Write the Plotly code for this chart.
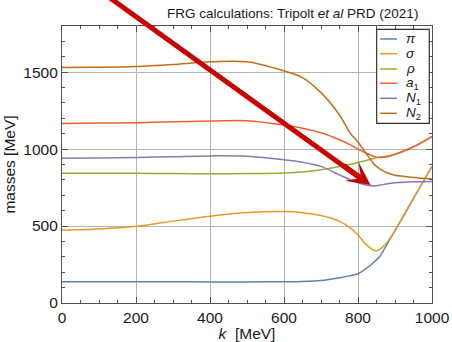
import plotly.graph_objects as go

k = [0, 100, 200, 300, 400, 500, 600, 650, 700, 750, 780, 800, 820, 840, 850, 860, 880, 900, 950, 1000]

m_pi = [138, 138, 138, 138, 137, 137, 138, 140, 146, 164, 178, 190, 220, 258, 281, 307, 388, 470, 680, 888]
m_sigma = [474, 481, 498, 532, 564, 588, 594, 587, 568, 530, 487, 442, 386, 346, 340, 350, 398, 470, 680, 888]
m_rho = [843, 843, 843, 841, 840, 841, 845, 852, 866, 887, 902, 913, 925, 937, 943, 948, 955, 966, 1015, 1081]
m_a1 = [1166, 1169, 1172, 1178, 1182, 1185, 1157, 1136, 1106, 1061, 1028, 1000, 976, 955, 948, 945, 950, 966, 1015, 1081]
m_N1 = [940, 942, 946, 951, 956, 953, 931, 915, 888, 833, 800, 781, 767, 761, 762, 766, 775, 781, 788, 790]
m_N2 = [1530, 1532, 1537, 1550, 1567, 1567, 1508, 1465, 1367, 1222, 1100, 1046, 978, 912, 888, 870, 845, 830, 816, 806]

names = ["<i>π</i>", "<i>σ</i>", "<i>ρ</i>", "<i>a</i><sub>1</sub>", "<i>N</i><sub>1</sub>", "<i>N</i><sub>2</sub>"]
colors = ["#5E81B5", "#E19C24", "#8FB032", "#EB6235", "#8778B3", "#C56E1A"]
series = [m_pi, m_sigma, m_rho, m_a1, m_N1, m_N2]

FONT = "Liberation Sans, Arial, sans-serif"
TXT = "#1a1a1a"

fig = go.Figure()
for nm, col, ys in zip(names, colors, series):
    fig.add_trace(go.Scatter(x=k, y=ys, mode="lines", name=nm, showlegend=False,
                             line=dict(color=col, width=1.5, shape="spline", smoothing=0.8)))

axis_common = dict(
    showline=True, linecolor="#505050", linewidth=1.2, mirror="allticks",
    ticks="inside", ticklen=6, tickcolor="#505050", tickwidth=1,
    showgrid=True, gridcolor="#b4b4b4", gridwidth=1.2,
    zeroline=False, automargin=False,
    tickfont=dict(family=FONT, size=15.5, color=TXT),
)

fig.update_layout(
    width=452, height=342,
    margin=dict(l=62, r=20, t=26, b=39, autoexpand=False),
    paper_bgcolor="white", plot_bgcolor="white",
    font=dict(family=FONT, color=TXT),
    xaxis=dict(range=[0, 1000], dtick=200,
               minor=dict(dtick=50, ticks="inside", ticklen=3, tickcolor="#505050", showgrid=False),
               title=dict(text="<i>k</i>  [MeV]", font=dict(size=15.5), standoff=1),
               **axis_common),
    yaxis=dict(range=[0, 1800], tickvals=[0, 500, 1000, 1500],
               minor=dict(dtick=100, ticks="inside", ticklen=3, tickcolor="#505050", showgrid=False),
               title=dict(text="masses [MeV]", font=dict(size=15.5), standoff=3),
               **axis_common),
    showlegend=False,
)

# Title text
fig.add_annotation(text="FRG calculations: Tripolt <i>et al</i> PRD (2021)",
                   xref="paper", yref="paper", x=0.9676, y=1.0, yshift=13,
                   xanchor="right", yanchor="middle", showarrow=False,
                   font=dict(size=13.5, color=TXT))

# Legend box (manual, in paper coordinates)
fig.add_shape(type="rect", xref="paper", yref="paper", x0=0.8505, x1=0.9927, y0=0.6487, y1=0.988,
              line=dict(color="#303030", width=1.2), fillcolor="white", layer="above")
leg_y = [0.9531, 0.9000, 0.8448, 0.7931, 0.7390, 0.6848]
for nm, col, yy in zip(names, colors, leg_y):
    fig.add_shape(type="line", xref="paper", yref="paper", x0=0.8595, x1=0.9054, y0=yy, y1=yy,
                  line=dict(color=col, width=1.5), layer="above")
    fig.add_annotation(text=nm, xref="paper", yref="paper", x=0.923, y=yy,
                       xanchor="left", yanchor="middle", showarrow=False,
                       font=dict(size=13.5, color=TXT))

# Red arrow: shaft as paper line shape, head as annotation
fig.add_shape(type="line", xref="paper", yref="paper", x0=0.10, y0=1.13, x1=0.812, y1=0.445,
              line=dict(color="#c80000", width=5), layer="above")
fig.add_annotation(x=834, y=767, xref="x", yref="y", ax=-28, ay=-20.2,
                   showarrow=True, arrowhead=3, arrowsize=0.78, arrowwidth=5,
                   arrowcolor="#c80000", text="")

fig.write_html("out.html", config={"displayModeBar": False},
               post_script="document.body.style.margin='0';document.body.style.padding='0';")
